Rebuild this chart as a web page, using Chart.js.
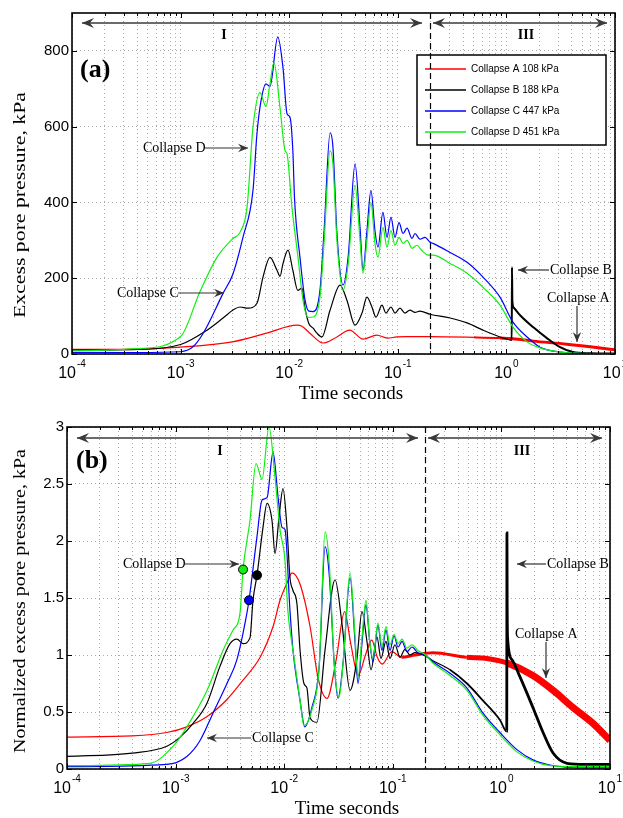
<!DOCTYPE html>
<html lang="en">
<head>
<meta charset="UTF-8" />
<title>Excess pore pressure during collapse</title>
<script src="https://cdn.jsdelivr.net/npm/chart.js"></script>
<style>
  body { margin: 0; background: #fff; }
  #wrap { position: relative; width: 623px; height: 818px; }
  canvas { position: absolute; left: 0; }
</style>
</head>
<body>
<div id="wrap">
  <canvas id="chartA" width="623" height="410" style="top:0"></canvas>
  <canvas id="chartB" width="623" height="408" style="top:410px"></canvas>
</div>
<script>
// ---- time axis (seconds, log) ----
const decades = [1e-4, 1e-3, 1e-2, 1e-1, 1, 10];
const minorSteps = [2, 3, 4, 5, 6, 7, 8, 9];
const regionSplit = 0.2; // boundary between stage I and III

const legendLabels = [
  "Collapse A 108 kPa",
  "Collapse B 188 kPa",
  "Collapse C 447 kPa",
  "Collapse D 451 kPa",
];
const colors = ["#ff0000", "#000000", "#0000ff", "#11ee11"];

// ---- (a) excess pore pressure, kPa : [time s, value] ----
const pressureA = [[1e-4,12],[4e-4,13],[1e-3,18],[3e-3,32],[6.2e-3,55],[1.18e-2,76],[1.3e-2,74],[1.55e-2,55],[2.05e-2,29],[2.75e-2,45],[3.6e-2,63],[4.8e-2,39],[6.4e-2,50],[8e-2,42],[9.8e-2,45],[0.12,46],[0.2,46],[0.5,44],[0.87,42],[1.15,40],[1.76,34],[3.6,26],[7.3,16],[10,11]];
const pressureB = [[1e-4,10],[4e-4,12],[1e-3,25],[1.75e-3,63],[2.46e-3,95],[3.04e-3,116],[3.52e-3,124],[4.18e-3,121],[5.05e-3,134],[5.74e-3,203],[6.65e-3,255],[7.72e-3,221],[8.23e-3,205],[8.77e-3,239],[9.75e-3,274],[1.08e-2,221],[1.2e-2,168],[1.31e-2,174],[1.4e-2,120],[1.52e-2,80],[1.66e-2,68],[1.8e-2,55],[2.0e-2,45],[2.38e-2,116],[2.94e-2,182],[3.4e-2,142],[4.04e-2,76],[4.68e-2,108],[5.2e-2,150],[5.78e-2,124],[6.3e-2,97],[7.15e-2,129],[7.78e-2,108],[8.65e-2,124],[9.42e-2,108],[0.1047,121],[0.1165,108],[0.1294,116],[0.144,110],[0.16,113],[0.198,105],[0.303,95],[0.434,82],[0.609,63],[0.873,45],[1.08,37],[1.12,36],[1.125,229],[1.135,140],[1.17,122],[1.33,103],[1.76,71],[2.36,42],[3.12,18],[4.1,5],[6,2],[10,1]];
const pressureC = [[1e-4,4],[4e-4,4],[1e-3,6],[1.3e-3,19],[1.61e-3,54],[2.46e-3,160],[3.04e-3,212],[3.76e-3,309],[4.64e-3,432],[5.05e-3,582],[5.5e-3,668],[6.11e-3,713],[6.65e-3,706],[7.85e-3,837],[8.77e-3,755],[9.55e-3,634],[1.017e-2,625],[1.08e-2,537],[1.12e-2,410],[1.257e-2,255],[1.4e-2,142],[1.52e-2,113],[1.66e-2,112],[1.92e-2,168],[2.1e-2,330],[2.38e-2,584],[2.53e-2,545],[2.75e-2,320],[3.13e-2,182],[3.5e-2,260],[4.04e-2,502],[4.49e-2,334],[4.78e-2,221],[5.2e-2,326],[5.66e-2,432],[6.16e-2,326],[6.57e-2,282],[7.3e-2,374],[7.95e-2,308],[8.65e-2,361],[9.42e-2,308],[0.1026,347],[0.1117,318],[0.1216,332],[0.1352,305],[0.144,318],[0.16,303],[0.178,308],[0.198,295],[0.211,292],[0.303,268],[0.434,242],[0.609,203],[0.873,150],[1.15,84],[1.55,45],[2.04,18],[3.12,5],[5,2],[10,1]];
const pressureD = [[1e-4,8],[4e-4,14],[1e-3,46],[1.51e-3,165],[2.16e-3,255],[3.04e-3,305],[3.52e-3,321],[4.09e-3,387],[4.64e-3,598],[5.38e-3,690],[6.11e-3,653],[6.65e-3,713],[7.24e-3,769],[8.23e-3,650],[9.15e-3,537],[9.55e-3,528],[1.06e-2,387],[1.205e-2,255],[1.34e-2,142],[1.49e-2,97],[1.62e-2,97],[1.92e-2,150],[2.1e-2,300],[2.38e-2,537],[2.53e-2,500],[2.75e-2,300],[3.13e-2,168],[3.5e-2,240],[4.04e-2,445],[4.49e-2,300],[4.78e-2,213],[5.2e-2,300],[5.66e-2,400],[6.16e-2,292],[6.57e-2,255],[7.3e-2,334],[7.95e-2,282],[8.65e-2,326],[9.42e-2,287],[0.1026,308],[0.1117,292],[0.1216,300],[0.1352,279],[0.15,287],[0.165,274],[0.19,261],[0.211,261],[0.303,239],[0.434,213],[0.609,176],[0.873,129],[1.15,71],[1.55,32],[2.04,16],[3.12,5],[5,2],[10,1]];

// ---- (b) normalized excess pore pressure ----
const normA = [[1e-4,0.28],[4e-4,0.29],[8.3e-4,0.32],[1.27e-3,0.37],[1.95e-3,0.46],[2.97e-3,0.61],[4.18e-3,0.78],[6e-3,0.98],[7.9e-3,1.25],[9.15e-3,1.48],[1.06e-2,1.63],[1.18e-2,1.72],[1.4e-2,1.62],[1.73e-2,1.25],[2.05e-2,0.8],[2.48e-2,0.62],[3.0e-2,0.95],[3.6e-2,1.38],[4.1e-2,1.1],[4.8e-2,0.82],[5.6e-2,1.0],[6.4e-2,1.13],[7.2e-2,0.98],[8e-2,0.92],[9.8e-2,1.03],[0.12,0.98],[0.16,1.0],[0.234,1.02],[0.48,0.98],[0.737,0.97],[1.127,0.93],[1.95,0.82],[2.99,0.69],[4.56,0.54],[6.97,0.40],[10,0.25]];
const normB = [[1e-4,0.11],[4e-4,0.14],[8.3e-4,0.2],[1.1e-3,0.28],[1.45e-3,0.40],[1.95e-3,0.58],[2.56e-3,0.9],[3.17e-3,1.1],[3.67e-3,1.14],[4.18e-3,1.10],[4.84e-3,1.15],[5.16e-3,1.48],[5.62e-3,1.70],[6.38e-3,2.12],[6.95e-3,2.33],[7.72e-3,2.18],[8.23e-3,1.89],[8.96e-3,2.21],[9.75e-3,2.46],[1.06e-2,2.12],[1.13e-2,1.68],[1.2e-2,1.57],[1.31e-2,1.45],[1.4e-2,1.04],[1.52e-2,0.75],[1.62e-2,0.71],[1.73e-2,0.45],[2.0e-2,0.41],[2.38e-2,1.05],[2.94e-2,1.66],[3.4e-2,1.28],[4.04e-2,0.69],[4.68e-2,0.97],[5.2e-2,1.38],[5.78e-2,1.12],[6.3e-2,0.87],[7.15e-2,1.16],[7.78e-2,0.97],[8.65e-2,1.12],[9.42e-2,0.97],[0.1047,1.09],[0.1165,0.98],[0.1294,1.05],[0.144,1.0],[0.16,1.02],[0.2,0.99],[0.234,0.95],[0.336,0.87],[0.482,0.75],[0.677,0.6],[0.97,0.43],[1.12,0.33],[1.125,2.07],[1.13,1.45],[1.14,1.15],[1.25,0.96],[1.48,0.81],[1.95,0.54],[2.42,0.32],[2.99,0.14],[4.02,0.05],[6,0.04],[10,0.04]];
const normC = [[1e-4,0.02],[8.3e-4,0.04],[1.27e-3,0.11],[1.68e-3,0.25],[2.21e-3,0.49],[2.97e-3,0.75],[3.67e-3,0.96],[4.54e-3,1.37],[4.74e-3,1.48],[5.62e-3,2.04],[6.25e-3,2.36],[6.95e-3,2.38],[7.89e-3,2.78],[8.77e-3,2.39],[9.55e-3,2.12],[1.017e-2,2.10],[1.13e-2,1.39],[1.205e-2,1.04],[1.4e-2,0.6],[1.55e-2,0.37],[1.8e-2,0.54],[2.1e-2,0.9],[2.38e-2,1.95],[2.6e-2,1.7],[2.9e-2,0.9],[3.13e-2,0.62],[3.5e-2,0.95],[4.04e-2,1.68],[4.5e-2,1.1],[4.78e-2,0.75],[5.2e-2,1.1],[5.66e-2,1.44],[6.16e-2,1.1],[6.57e-2,0.94],[7.3e-2,1.26],[7.95e-2,1.04],[8.65e-2,1.22],[9.42e-2,1.04],[0.1026,1.17],[0.1117,1.07],[0.1216,1.12],[0.1352,1.03],[0.15,1.07],[0.17,1.02],[0.2,1.0],[0.234,0.94],[0.336,0.84],[0.482,0.71],[0.677,0.49],[0.97,0.32],[1.39,0.17],[1.95,0.08],[2.8,0.035],[5.64,0.01],[10,0.01]];
const normD = [[1e-4,0.03],[5.8e-4,0.05],[9.5e-4,0.2],[1.27e-3,0.37],[1.95e-3,0.69],[2.73e-3,1.04],[3.38e-3,1.22],[3.92e-3,1.37],[4.18e-3,1.75],[4.84e-3,2.18],[5.5e-3,2.68],[6.25e-3,2.54],[7.24e-3,3.0],[8.23e-3,2.56],[9.15e-3,2.10],[1.017e-2,1.83],[1.08e-2,1.39],[1.205e-2,1.04],[1.4e-2,0.6],[1.52e-2,0.38],[1.8e-2,0.52],[2.1e-2,0.9],[2.38e-2,2.08],[2.6e-2,1.8],[2.9e-2,0.9],[3.2e-2,0.63],[3.5e-2,0.95],[4.04e-2,1.72],[4.5e-2,1.15],[4.78e-2,0.8],[5.2e-2,1.15],[5.66e-2,1.48],[6.16e-2,1.1],[6.57e-2,0.97],[7.3e-2,1.28],[7.95e-2,1.07],[8.65e-2,1.25],[9.42e-2,1.09],[0.1026,1.18],[0.1117,1.1],[0.1216,1.14],[0.1352,1.06],[0.15,1.09],[0.17,1.04],[0.2,1.0],[0.234,0.93],[0.336,0.82],[0.482,0.69],[0.677,0.47],[0.97,0.3],[1.39,0.15],[1.95,0.07],[2.8,0.03],[5.64,0.02],[10,0.02]];

// onset points marked on (b)
const onsetB = [[5.62e-3, 1.70]];
const onsetC = [[4.74e-3, 1.48]];
const onsetD = [[4.18e-3, 1.75]];

const ticksA = [0, 200, 400, 600, 800];
const ticksB = [0, 0.5, 1, 1.5, 2, 2.5, 3];

const SERIF = '"Liberation Serif", "Times New Roman", serif';
const SANS = '"Liberation Sans", Arial, sans-serif';
const GRID = "rgba(0,0,0,0.32)";

const xTicks = [];
decades.forEach((d, i) => {
  xTicks.push(d);
  if (i < decades.length - 1) minorSteps.forEach((m) => xTicks.push(d * m));
});

const toXY = (pts) => pts.map(([x, y]) => ({ x, y }));

function curve(pts, color, order, widthFn) {
  const ds = {
    data: toXY(pts),
    borderColor: color,
    borderWidth: 1.2,
    pointRadius: 0,
    cubicInterpolationMode: "monotone",
    fill: false,
    order: order,
  };
  if (widthFn) ds.segment = { borderWidth: (ctx) => widthFn(ctx.p0.parsed.x) };
  return ds;
}

function dot(pts, color) {
  return {
    type: "scatter",
    data: toXY(pts),
    pointRadius: 4.5,
    pointBackgroundColor: color,
    pointBorderColor: "#000",
    pointBorderWidth: 1,
    order: -1,
  };
}

// ---- drawing helpers ----
function head(ctx, x, y, ang, s) {
  ctx.save();
  ctx.translate(x, y);
  ctx.rotate(ang);
  ctx.beginPath();
  ctx.moveTo(0, 0);
  ctx.lineTo(-s, -s * 0.42);
  ctx.lineTo(-s * 0.65, 0);
  ctx.lineTo(-s, s * 0.42);
  ctx.closePath();
  ctx.fill();
  ctx.restore();
}

function arrow(ctx, x1, y1, x2, y2, both, s, lw, color) {
  ctx.save();
  ctx.strokeStyle = color || "#333";
  ctx.fillStyle = color || "#333";
  ctx.lineWidth = lw || 1.2;
  ctx.beginPath();
  ctx.moveTo(x1, y1);
  ctx.lineTo(x2, y2);
  ctx.stroke();
  head(ctx, x2, y2, Math.atan2(y2 - y1, x2 - x1), s);
  if (both) head(ctx, x1, y1, Math.atan2(y1 - y2, x1 - x2), s);
  ctx.restore();
}

function text(ctx, str, x, y, font, align, base) {
  ctx.font = font;
  ctx.fillStyle = "#000";
  ctx.textAlign = align || "left";
  ctx.textBaseline = base || "middle";
  ctx.fillText(str, x, y);
}

function drawFrame(chart, ctx, yTitle, yTitleX, yTitleY, yStretch, xTitleX) {
  const { left, right, top, bottom } = chart.chartArea;
  const xs = chart.scales.x;
  const ys = chart.scales.y;
  ctx.save();
  ctx.strokeStyle = "#000";
  ctx.lineWidth = 1;
  // inner tick marks on all four sides
  ctx.beginPath();
  xTicks.forEach((v) => {
    const px = Math.round(xs.getPixelForValue(v)) + 0.5;
    const len = decades.includes(v) ? 5 : 3;
    ctx.moveTo(px, bottom);
    ctx.lineTo(px, bottom - len);
    ctx.moveTo(px, top);
    ctx.lineTo(px, top + len);
  });
  ys.ticks.forEach((t) => {
    const py = Math.round(ys.getPixelForValue(t.value)) + 0.5;
    ctx.moveTo(left, py);
    ctx.lineTo(left + 5, py);
    ctx.moveTo(right, py);
    ctx.lineTo(right - 5, py);
  });
  ctx.stroke();
  ctx.lineWidth = 1.6;
  ctx.strokeRect(left, top, right - left, bottom - top);

  // decade labels 10^n
  decades.forEach((d) => {
    const px = xs.getPixelForValue(d);
    const exp = String(Math.round(Math.log10(d)));
    ctx.font = "16px " + SANS;
    const w1 = ctx.measureText("10").width;
    ctx.font = "10px " + SANS;
    const w2 = ctx.measureText(exp).width;
    const x0 = px - (w1 + w2 + 1) / 2;
    text(ctx, "10", x0, bottom + 24, "16px " + SANS, "left", "alphabetic");
    text(ctx, exp, x0 + w1 + 1, bottom + 13, "10px " + SANS, "left", "alphabetic");
  });

  // axis titles
  ctx.save();
  ctx.font = "19px " + SERIF;
  ctx.textAlign = "center";
  ctx.textBaseline = "alphabetic";
  ctx.fillText("Time seconds", xTitleX, bottom + 45);
  ctx.restore();

  ctx.save();
  ctx.translate(yTitleX, yTitleY);
  ctx.rotate(-Math.PI / 2);
  ctx.scale(yStretch, 1);
  ctx.font = "16px " + SERIF;
  ctx.fillStyle = "#000";
  ctx.textAlign = "center";
  ctx.textBaseline = "alphabetic";
  ctx.fillText(yTitle, 0, 0);
  ctx.restore();
  ctx.restore();
}

function drawSplit(chart, ctx) {
  const { top, bottom } = chart.chartArea;
  const px = Math.round(chart.scales.x.getPixelForValue(regionSplit)) + 0.5;
  ctx.save();
  ctx.strokeStyle = "#000";
  ctx.lineWidth = 1.2;
  ctx.setLineDash([6, 4]);
  ctx.beginPath();
  ctx.moveTo(px, top);
  ctx.lineTo(px, bottom);
  ctx.stroke();
  ctx.restore();
}

function drawRegions(ctx, y, a1, a2, b1, b2, xI, xIII, yLab) {
  arrow(ctx, a2, y, a1, y, true, 12, 1.5, "#3a3a3a");
  arrow(ctx, b2, y, b1, y, true, 12, 1.5, "#3a3a3a");
  text(ctx, "I", xI, yLab, "bold 14px " + SERIF, "center");
  text(ctx, "III", xIII, yLab, "bold 14px " + SERIF, "center");
}

function drawLegend(ctx) {
  ctx.save();
  ctx.fillStyle = "#fff";
  ctx.fillRect(417, 55, 189, 90);
  ctx.strokeStyle = "#000";
  ctx.lineWidth = 1.5;
  ctx.strokeRect(417, 55, 189, 90);
  legendLabels.forEach((lab, i) => {
    const y = 69 + i * 21;
    ctx.strokeStyle = colors[i];
    ctx.lineWidth = 1.3;
    ctx.beginPath();
    ctx.moveTo(425, y);
    ctx.lineTo(466, y);
    ctx.stroke();
    text(ctx, lab, 471, y, "10px " + SANS, "left");
  });
  ctx.restore();
}

function baseOptions(yMax, yTicks, yWidth, xHeight, padTop, padRight) {
  return {
    responsive: false,
    animation: false,
    devicePixelRatio: 1,
    events: [],
    layout: { padding: { top: padTop, right: padRight, left: 0, bottom: 0 } },
    plugins: { legend: { display: false }, tooltip: { enabled: false } },
    scales: {
      x: {
        type: "logarithmic",
        min: 1e-4,
        max: 10,
        afterBuildTicks: (s) => { s.ticks = xTicks.map((v) => ({ value: v })); },
        afterFit: (s) => { s.height = xHeight; },
        ticks: { display: false },
        grid: { color: GRID, lineWidth: 1, drawTicks: false },
        border: { display: false, dash: [1, 3] },
      },
      y: {
        min: 0,
        max: yMax,
        afterBuildTicks: (s) => { s.ticks = yTicks.map((v) => ({ value: v })); },
        afterFit: (s) => { s.width = yWidth; },
        ticks: {
          color: "#000",
          font: { family: SANS, size: 15 },
          padding: 3,
          callback: (v) => String(v),
        },
        grid: { color: GRID, lineWidth: 1, drawTicks: false },
        border: { display: false, dash: [1, 3] },
      },
    },
  };
}

// ---- panel (a) ----
const redWidthA = (t) => (t >= 0.6 ? 3 : t >= 0.25 ? 2 : 1.2);
const blackWidthA = (t) => (t >= 1.12 ? 2 : 1.2);

new Chart(document.getElementById("chartA"), {
  type: "line",
  data: {
    datasets: [
      curve(pressureD, colors[3], 0),
      curve(pressureC, colors[2], 1),
      curve(pressureB, colors[1], 2, blackWidthA),
      curve(pressureA, colors[0], 3, redWidthA),
    ],
  },
  options: baseOptions(900, ticksA, 72, 56, 13, 8),
  plugins: [{
    id: "panelA",
    afterDraw(chart) {
      const ctx = chart.ctx;
      drawFrame(chart, ctx, "Excess pore pressure, kPa", 25, 205, 1.36, 351);
      drawLegend(ctx);
      drawSplit(chart, ctx);
      drawRegions(ctx, 23, 82, 422, 433, 607, 224, 526, 35);
      text(ctx, "(a)", 80, 70, "bold 26px " + SERIF, "left");
      text(ctx, "Collapse D", 143, 148, "14px " + SERIF);
      arrow(ctx, 205, 148, 248, 148, false, 10);
      text(ctx, "Collapse C", 117, 293, "14px " + SERIF);
      arrow(ctx, 178, 293, 224, 293, false, 10);
      text(ctx, "Collapse B", 550, 270, "14px " + SERIF);
      arrow(ctx, 549, 270, 518, 270, false, 10);
      text(ctx, "Collapse A", 547, 298, "14px " + SERIF);
      arrow(ctx, 577, 306, 577, 342, false, 10);
    },
  }],
});

// ---- panel (b) ----
const redWidthB = (t) => (t >= 1 ? 7 : t >= 0.3 ? 5 : t >= 0.1 ? 3 : 1.2);
const blackWidthB = (t) => (t >= 1.12 ? 2.8 : t >= 0.25 ? 1.8 : 1.2);

new Chart(document.getElementById("chartB"), {
  type: "line",
  data: {
    datasets: [
      dot(onsetD, colors[3]),
      dot(onsetB, colors[1]),
      dot(onsetC, colors[2]),
      curve(normD, colors[3], 0),
      curve(normC, colors[2], 1),
      curve(normB, colors[1], 2, blackWidthB),
      curve(normA, colors[0], 3, redWidthB),
    ],
  },
  options: baseOptions(3, ticksB, 67, 49, 17, 13),
  plugins: [{
    id: "panelB",
    afterDraw(chart) {
      const ctx = chart.ctx;
      drawFrame(chart, ctx, "Normalized excess pore pressure, kPa", 25, 191, 1.25, 347);
      drawSplit(chart, ctx);
      drawRegions(ctx, 28, 77, 418, 428, 602, 220, 522, 41);
      text(ctx, "(b)", 76, 51, "bold 26px " + SERIF, "left");
      text(ctx, "Collapse D", 123, 154, "14px " + SERIF);
      arrow(ctx, 184, 154, 239, 154, false, 10);
      text(ctx, "Collapse C", 252, 328, "14px " + SERIF);
      arrow(ctx, 251, 328, 207, 328, false, 10);
      text(ctx, "Collapse B", 547, 154, "14px " + SERIF);
      arrow(ctx, 546, 154, 517, 154, false, 10);
      text(ctx, "Collapse A", 515, 224, "14px " + SERIF);
      arrow(ctx, 546, 232, 546, 268, false, 10);
    },
  }],
});
</script>
</body>
</html>
